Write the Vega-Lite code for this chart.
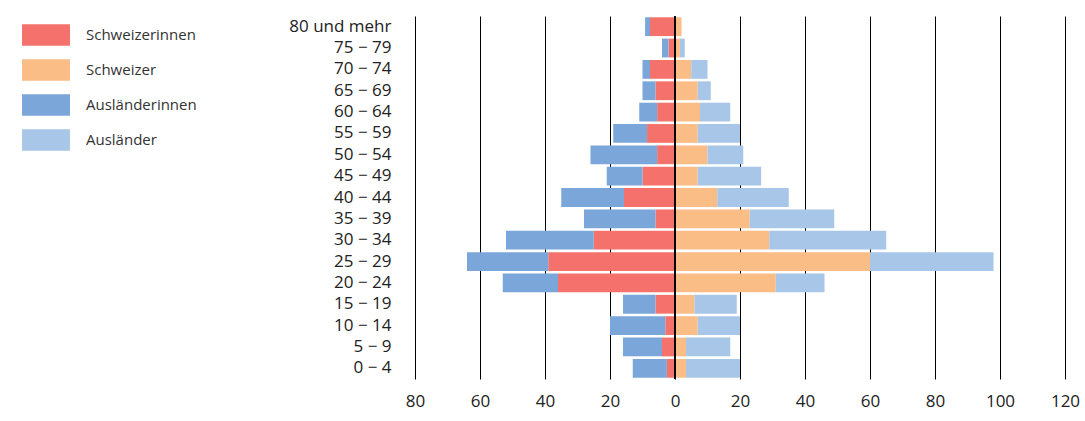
{
"$schema":"https://vega.github.io/schema/vega-lite/v6.json",
"width":650,"height":363,
"autosize":{"type":"none"},
"padding":{"left":415,"top":16,"right":20,"bottom":42},
"config":{"font":"Open Sans","view":{"stroke":null}},
"data":{"values":[
{"g":"80 und mehr","sw":7.7,"fw":9.2,"sm":2,"tm":2},
{"g":"75 − 79","sw":2,"fw":4,"sm":1.5,"tm":3},
{"g":"70 − 74","sw":7.7,"fw":10,"sm":5,"tm":10},
{"g":"65 − 69","sw":6,"fw":10,"sm":7,"tm":11},
{"g":"60 − 64","sw":5.5,"fw":11,"sm":7.7,"tm":17},
{"g":"55 − 59","sw":8.6,"fw":19,"sm":7,"tm":20},
{"g":"50 − 54","sw":5.5,"fw":26,"sm":10,"tm":21},
{"g":"45 − 49","sw":10,"fw":21,"sm":7,"tm":26.5},
{"g":"40 − 44","sw":15.7,"fw":35,"sm":13,"tm":35},
{"g":"35 − 39","sw":6,"fw":28,"sm":23,"tm":49},
{"g":"30 − 34","sw":25,"fw":52,"sm":29,"tm":65},
{"g":"25 − 29","sw":39,"fw":64,"sm":60,"tm":98},
{"g":"20 − 24","sw":36,"fw":53,"sm":31,"tm":46},
{"g":"15 − 19","sw":6,"fw":16,"sm":6,"tm":19},
{"g":"10 − 14","sw":3,"fw":20,"sm":7,"tm":20},
{"g":"5 − 9","sw":4,"fw":16,"sm":3.4,"tm":17},
{"g":"0 − 4","sw":2.5,"fw":13,"sm":3.4,"tm":20}
]},
"transform":[
{"fold":["sw","fw","sm","tm"],"as":["k","v"]}
],
"layer":[{
"transform":[
{"calculate":"datum.k=='sw'?'Schweizerinnen':datum.k=='sm'?'Schweizer':datum.k=='fw'?'Ausländerinnen':'Ausländer'","as":"cat"},
{"calculate":"datum.k=='sw'||datum.k=='sm'?0:(datum.k=='fw'?-datum.sw:datum.sm)","as":"x0"},
{"calculate":"datum.k=='sw'?-datum.v:datum.k=='fw'?-datum.v:datum.v","as":"x1"}
],
"mark":{"type":"bar"},
"encoding":{
"y":{"field":"g","type":"nominal","sort":null,"scale":{"paddingInner":0.12,"paddingOuter":0.06},"axis":{"title":null,"ticks":false,"domain":false,"labelFontSize":17,"labelColor":"#222","labelPadding":24}},
"x":{"field":"x0","type":"quantitative","scale":{"domain":[-80,120],"nice":false},"axis":{"title":null,"values":[-80,-60,-40,-20,0,20,40,60,80,100,120],"labelExpr":"abs(datum.value)","labelFlush":false,"labelOverlap":false,"grid":true,"gridColor":"#000","gridOpacity":1,"domain":false,"ticks":false,"labelFontSize":17,"labelColor":"#222","labelPadding":14}},
"x2":{"field":"x1"},
"color":{"field":"cat","type":"nominal","scale":{"domain":["Schweizerinnen","Schweizer","Ausländerinnen","Ausländer"],"range":["#f4726b","#fbbd86","#7aa6da","#a8c6e8"]},
"legend":{"title":null,"orient":"none","legendX":-393,"legendY":-5,"symbolType":"M-1,-0.45H1V0.45H-1Z","symbolSize":2300,"symbolStrokeWidth":0,"labelFontSize":15,"labelColor":"#333","rowPadding":-8,"labelOffset":16}},
"order":{"value":0}
}},
{"mark":{"type":"rule","color":"#000"},"encoding":{"x":{"datum":0}}}
]
}
